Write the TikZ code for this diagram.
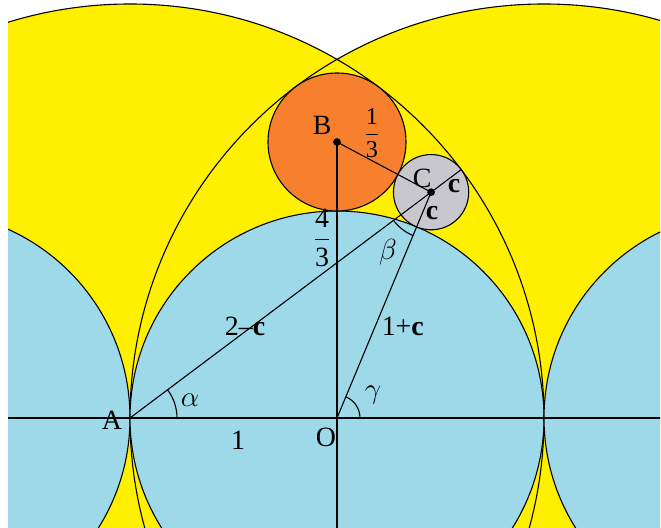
\documentclass[tikz,border=0pt]{standalone}
\usepackage{amsmath}
\usepackage{fontspec}
\setmainfont{Liberation Serif}
\usetikzlibrary{calc}
\definecolor{DiskYellow}{HTML}{FFF000}
\definecolor{DiskBlue}{HTML}{9ED9E9}
\definecolor{DiskOrange}{HTML}{F7802F}
\definecolor{DiskGray}{HTML}{C7C7CD}
\tikzset{
  rim/.style={draw=black, line width=0.45pt},
  seg/.style={draw=black, line width=0.45pt},
  lbl/.style={inner sep=0pt, font=\fontsize{11.5}{13}\selectfont},
  dot/.style={circle, fill=black, inner sep=0pt, minimum size=3.2pt},
}
\begin{document}
\begin{tikzpicture}[x=3cm,y=3cm]
  \useasboundingbox[fill=white] (-1.628,-0.5314) rectangle (1.5652,2.0193);
  % centres and contact points
  \coordinate (A) at (-1,0);
  \coordinate (O) at (0,0);
  \coordinate (Ar) at (1,0);
  \coordinate (Bl) at (-2,0);
  \coordinate (Br) at (2,0);
  \coordinate (B) at (0,4/3);
  \coordinate (C) at (5/11,12/11);
  \coordinate (T1) at (0.6,1.2);
  \coordinate (Obot) at (0,-0.6);
  \coordinate (Wl) at (-1.7,0);
  \coordinate (Wr) at (1.7,0);
  \begin{scope}
    \clip (-1.589,-0.527) rectangle (1.5604,2.02);
    \fill[DiskYellow] (A) circle[radius=2] (Ar) circle[radius=2];
    \draw[rim] (A) circle[radius=2] (Ar) circle[radius=2];
    \filldraw[rim, fill=DiskBlue] (Bl) circle[radius=1];
    \filldraw[rim, fill=DiskBlue] (O) circle[radius=1];
    \filldraw[rim, fill=DiskBlue] (Br) circle[radius=1];
    \filldraw[rim, fill=DiskOrange] (B) circle[radius=1/3];
    \filldraw[rim, fill=DiskGray] (C) circle[radius=2/11];
    % segments
    \draw[seg] (Wl) -- (Wr);
    \draw[seg] (B) -- (Obot);
    \draw[seg] (A) -- (T1);
    \draw[seg] (O) -- (C);
    \draw[seg] (B) -- (C);
    % angles
    \draw[seg] ($(A)+(0:0.227)$) arc[start angle=0, end angle=36.87, radius=0.227];
    \draw[seg] ($(C)+(216.87:0.227)$) arc[start angle=216.87, end angle=247.38, radius=0.227];
    \draw[seg] ($(O)+(0:0.111)$) arc[start angle=0, end angle=67.38, radius=0.111];
  \end{scope}
  \node[dot] (Bdot) at (B) {};
  \node[dot] (Cdot) at (C) {};
  % labels
  \node[lbl] (labA) at (-1.087,-0.012) {A};
  \node[lbl] (labO) at (-0.053,-0.092) {O};
  \node[lbl] (labB) at (-0.072,1.415) {B};
  \node[lbl] (labC) at (0.411,1.159) {C};
  \node[lbl] (labOne) at (-0.478,-0.106) {1};
  \node[lbl] (labAC) at (-0.444,0.444) {2–\textbf{c}};
  \node[lbl] (labOC) at (0.318,0.444) {1+\textbf{c}};
  \node[lbl] (labOB) at (-0.072,0.87) {$\dfrac{\text{4}}{\text{3}}$};
  \node[lbl, font=\fontsize{10}{12}\selectfont] (labBC) at (0.169,1.377) {$\dfrac{\text{1}}{\text{3}}$};
  \node[lbl] (labCt) at (0.565,1.121) {\textbf{c}};
  \node[lbl] (labCb) at (0.459,0.99) {\textbf{c}};
  \node[lbl] (labAlpha) at (-0.71,0.087) {$\alpha$};
  \node[lbl] (labBeta) at (0.246,0.802) {$\beta$};
  \node[lbl] (labGamma) at (0.174,0.111) {$\gamma$};
\end{tikzpicture}
\end{document}
